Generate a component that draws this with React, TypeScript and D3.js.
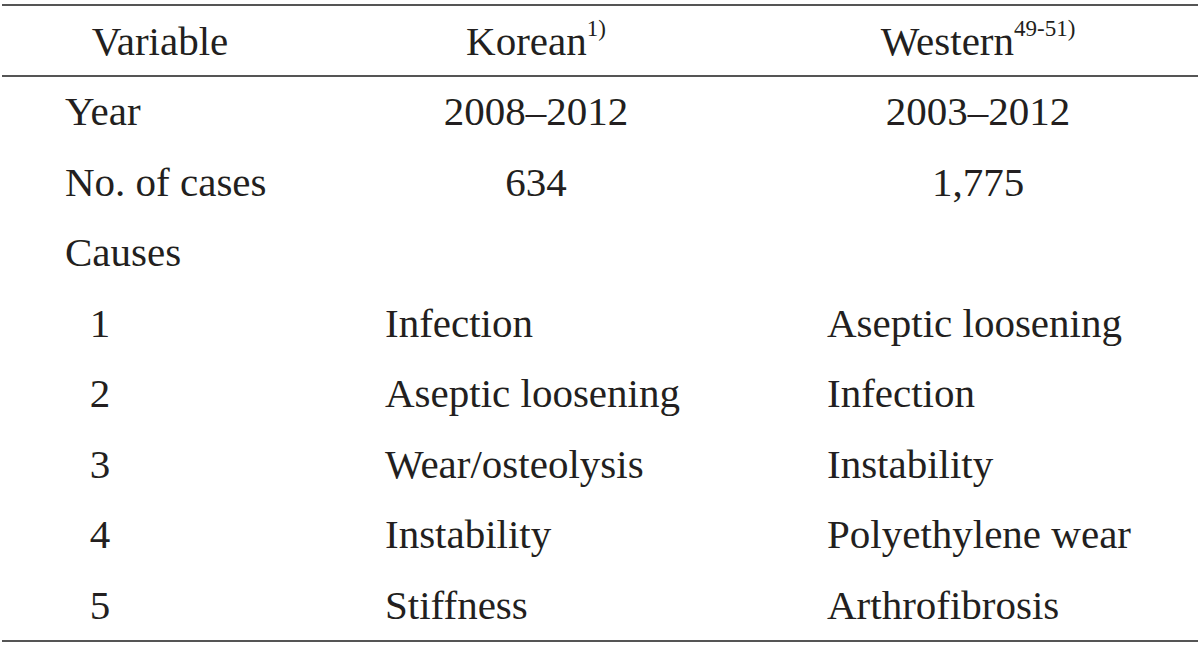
import React from "react";
import * as d3 from "d3";

const headers = ["Variable", "Korean", "Western"];
const headerSup = ["", "1)", "49-51)"];
const rowLabels = ["Year", "No. of cases", "Causes", "1", "2", "3", "4", "5"];
const koreanValues = ["2008–2012", "634", "", "Infection", "Aseptic loosening", "Wear/osteolysis", "Instability", "Stiffness"];
const westernValues = ["2003–2012", "1,775", "", "Aseptic loosening", "Infection", "Instability", "Polyethylene wear", "Arthrofibrosis"];
// rows 0-2: centered values; rows 3+: cause ranks, left-aligned
const isRank = [false, false, false, true, true, true, true, true];

const W = 1200;
const H = 645;
const FONT = "'Liberation Serif', 'Times New Roman', serif";
const TXT = "#231f20";
const LINE = "#555";

export default function App() {
  const y = d3.scaleLinear().domain([0, rowLabels.length - 1]).range([125, 619]);
  const headerY = 55;
  const colCenter = [160, 536, 978];
  const colLeft = [65, 385, 827];
  const rankX = 100;
  const fs = 41;

  return (
    <svg width={W} height={H} style={{ position: "absolute", left: 0, top: 0, background: "#fff" }}>
      <rect width={W} height={H} fill="#fff" />
      <line x1={2} x2={1198} y1={5} y2={5} stroke={LINE} strokeWidth={2.2} />
      <line x1={2} x2={1198} y1={76} y2={76} stroke={LINE} strokeWidth={2} />
      <line x1={2} x2={1198} y1={641} y2={641} stroke={LINE} strokeWidth={2.2} />
      <g fontFamily={FONT} fill={TXT} fontSize={fs}>
        {headers.map((h, i) => (
          <text key={h} x={colCenter[i]} y={headerY} textAnchor="middle">
            {h}
            {headerSup[i] ? (
              <tspan fontSize={23} dy={-19}>{headerSup[i]}</tspan>
            ) : null}
          </text>
        ))}
        {rowLabels.map((r, i) => (
          <text
            key={"l" + i}
            x={isRank[i] ? rankX : colLeft[0]}
            y={y(i)}
            textAnchor={isRank[i] ? "middle" : "start"}
          >
            {r}
          </text>
        ))}
        {koreanValues.map((v, i) =>
          v ? (
            <text
              key={"k" + i}
              x={isRank[i] ? colLeft[1] : colCenter[1]}
              y={y(i)}
              textAnchor={isRank[i] ? "start" : "middle"}
            >
              {v}
            </text>
          ) : null
        )}
        {westernValues.map((v, i) =>
          v ? (
            <text
              key={"w" + i}
              x={isRank[i] ? colLeft[2] : colCenter[2]}
              y={y(i)}
              textAnchor={isRank[i] ? "start" : "middle"}
            >
              {v}
            </text>
          ) : null
        )}
      </g>
    </svg>
  );
}
